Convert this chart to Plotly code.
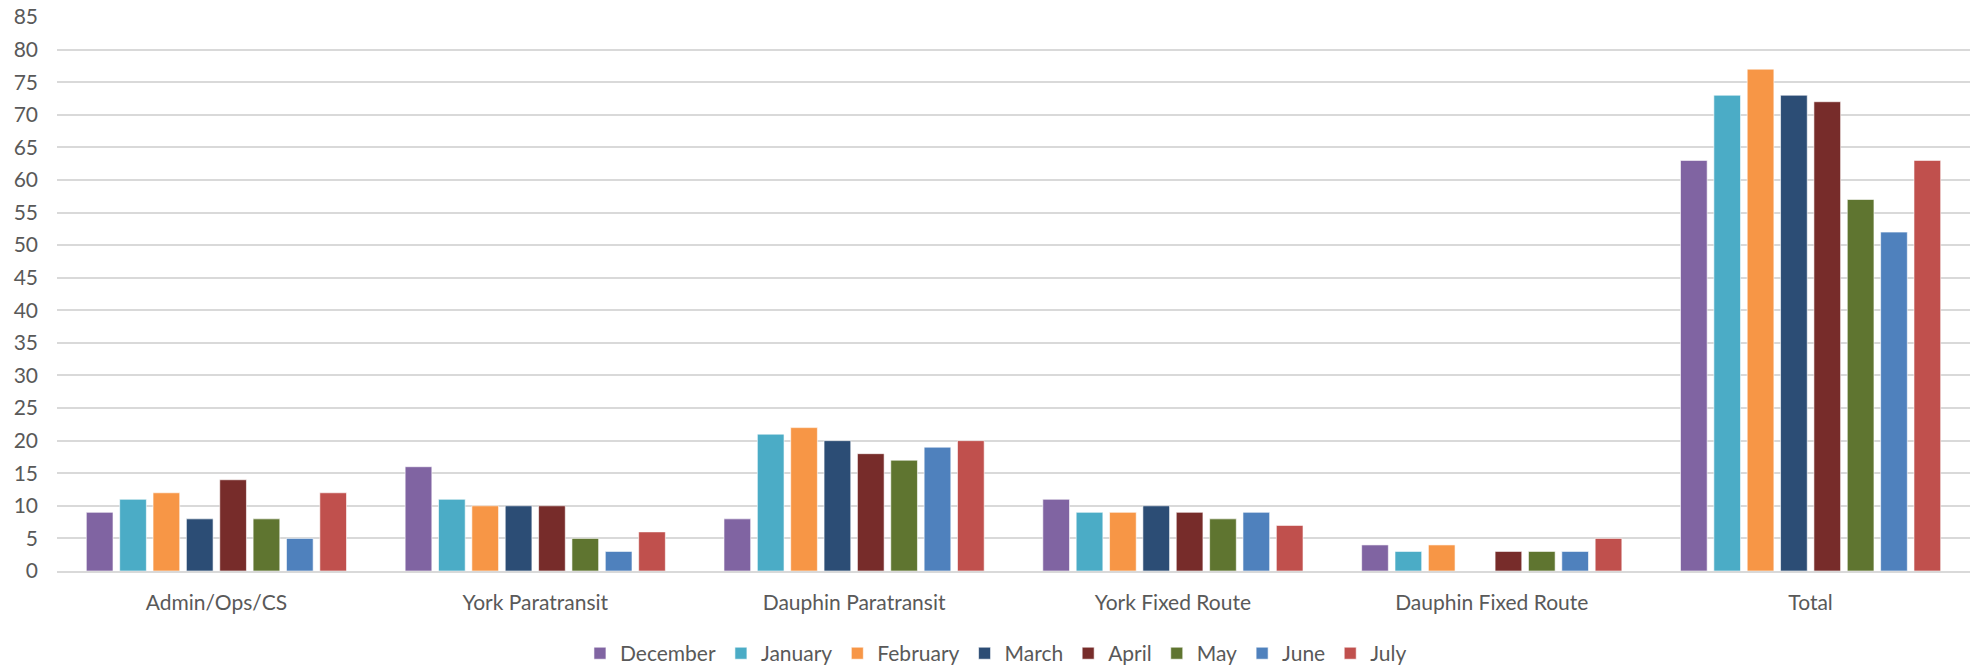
import plotly.graph_objects as go

categories = ["Admin/Ops/CS", "York Paratransit", "Dauphin Paratransit",
              "York Fixed Route", "Dauphin Fixed Route", "Total"]

months = ["December", "January", "February", "March", "April", "May", "June", "July"]

december = [9, 16, 8, 11, 4, 63]
january = [11, 11, 21, 9, 3, 73]
february = [12, 10, 22, 9, 4, 77]
march = [8, 10, 20, 10, None, 73]
april = [14, 10, 18, 9, 3, 72]
may = [8, 5, 17, 8, 3, 57]
june = [5, 3, 19, 9, 3, 52]
july = [12, 6, 20, 7, 5, 63]

series = [december, january, february, march, april, may, june, july]
colors = ["#8064A2", "#4BACC6", "#F79646", "#2C4D75",
          "#772C2A", "#5F7530", "#4F81BD", "#C0504D"]

y_ticks = list(range(0, 90, 5))

fig = go.Figure()
for name, vals, col in zip(months, series, colors):
    fig.add_trace(go.Bar(
        x=categories, y=vals, name=name,
        marker=dict(color=col, line=dict(color="rgba(255,255,255,0.6)", width=1)),
    ))

font_family = "Lato, 'Noto Sans', sans-serif"

fig.update_layout(
    width=1984, height=671,
    margin=dict(l=57, r=14, t=17, b=100, autoexpand=False),
    paper_bgcolor="white", plot_bgcolor="white",
    barmode="group", bargap=0.163, bargroupgap=0.2,
    font=dict(family=font_family, size=21, color="#595959"),
    showlegend=True,
    legend=dict(orientation="h", xref="container", yref="container",
                x=0.502, xanchor="center", y=0.026, yanchor="middle",
                font=dict(size=21, color="#595959"), traceorder="normal",
                itemwidth=30),
    xaxis=dict(showgrid=False, showline=True, linecolor="#D9D9D9", linewidth=2,
               ticks="", ticklabelstandoff=12, tickfont=dict(size=21, color="#595959")),
    yaxis=dict(range=[0, 85], tickvals=y_ticks, showgrid=True, gridcolor="#D9D9D9",
               gridwidth=1.5, zeroline=False, showline=False, ticks="",
               ticklabelstandoff=18, tickfont=dict(size=21, color="#595959")),
)

fig.write_html("out.html",
               config={"displayModeBar": False},
               post_script="document.body.style.margin='0';document.body.style.overflow='hidden';")
